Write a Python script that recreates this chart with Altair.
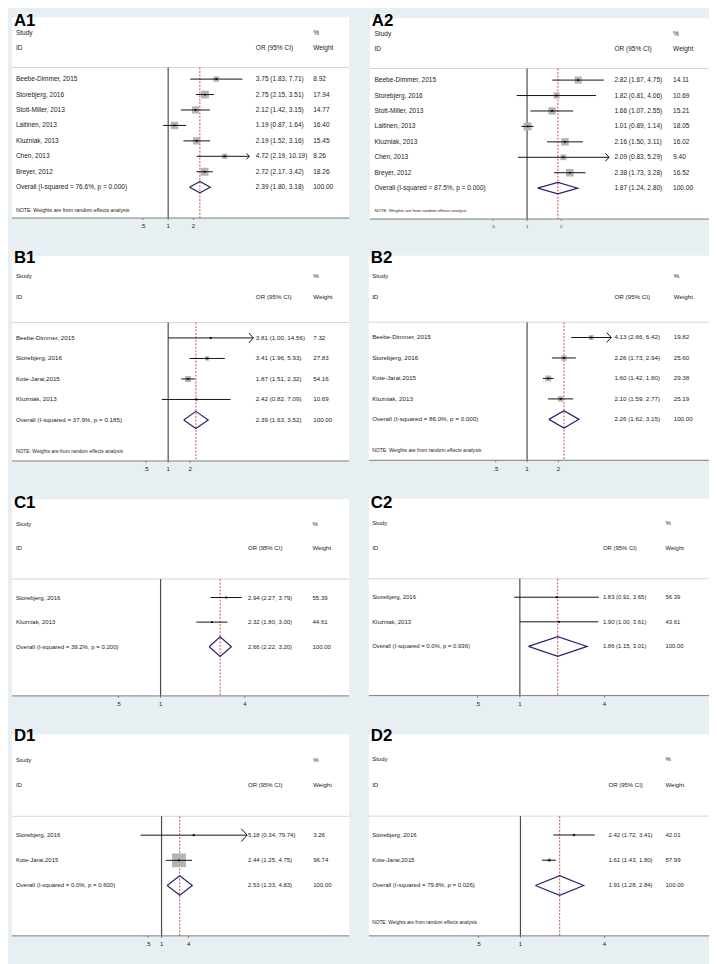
import altair as alt
import pandas as pd

# ------------------------------------------------------------------ data
A1_STUDY = ["Beebe-Dimmer, 2015", "Storebjerg, 2016", "Stott-Miller, 2013", "Laitinen, 2013",
            "Kluzniak, 2013", "Chen, 2013", "Breyer, 2012"]
A1_OR = [3.75, 2.75, 2.12, 1.19, 2.19, 4.72, 2.72]
A1_LO = [1.83, 2.15, 1.42, 0.87, 1.52, 2.19, 2.17]
A1_HI = [7.71, 3.51, 3.15, 1.64, 3.16, 10.19, 3.42]
A1_WT = [8.92, 17.94, 14.77, 16.40, 15.45, 8.26, 18.26]
A1_POOLED = [2.39, 1.80, 3.18]
A1_HET = ["76.6%", "0.000"]

A2_STUDY = A1_STUDY
A2_OR = [2.82, 1.82, 1.66, 1.01, 2.16, 2.09, 2.38]
A2_LO = [1.67, 0.81, 1.07, 0.89, 1.50, 0.83, 1.73]
A2_HI = [4.75, 4.06, 2.55, 1.14, 3.11, 5.29, 3.28]
A2_WT = [14.11, 10.69, 15.21, 18.05, 16.02, 9.40, 16.52]
A2_POOLED = [1.87, 1.24, 2.80]
A2_HET = ["87.5%", "0.000"]

B_STUDY = ["Beebe-Dimmer, 2015", "Storebjerg, 2016", "Kote-Jarai,2015", "Kluzniak, 2013"]
B1_OR = [3.81, 3.41, 1.87, 2.42]
B1_LO = [1.00, 1.96, 1.51, 0.82]
B1_HI = [14.56, 5.93, 2.32, 7.09]
B1_WT = [7.32, 27.83, 54.16, 10.69]
B1_POOLED = [2.39, 1.63, 3.52]
B1_HET = ["37.9%", "0.185"]

B2_OR = [4.13, 2.26, 1.60, 2.10]
B2_LO = [2.66, 1.73, 1.42, 1.59]
B2_HI = [6.42, 2.94, 1.80, 2.77]
B2_WT = [19.82, 25.60, 29.38, 25.19]
B2_POOLED = [2.26, 1.62, 3.15]
B2_HET = ["86.0%", "0.000"]

C_STUDY = ["Storebjerg, 2016", "Kluzniak, 2013"]
C1_OR = [2.94, 2.32]
C1_LO = [2.27, 1.80]
C1_HI = [3.79, 3.00]
C1_WT = [55.39, 44.61]
C1_POOLED = [2.66, 2.22, 3.20]
C1_HET = ["39.2%", "0.200"]

C2_OR = [1.83, 1.90]
C2_LO = [0.91, 1.00]
C2_HI = [3.65, 3.61]
C2_WT = [56.39, 43.61]
C2_POOLED = [1.86, 1.15, 3.01]
C2_HET = ["0.0%", "0.936"]

D_STUDY = ["Storebjerg, 2016", "Kote-Jarai,2015"]
D1_OR = [5.18, 2.44]
D1_LO = [0.34, 1.25]
D1_HI = [79.74, 4.75]
D1_WT = [3.26, 96.74]
D1_POOLED = [2.53, 1.33, 4.83]
D1_HET = ["0.0%", "0.600"]

D2_OR = [2.42, 1.61]
D2_LO = [1.72, 1.43]
D2_HI = [3.41, 1.80]
D2_WT = [42.01, 57.99]
D2_POOLED = [1.91, 1.28, 2.84]
D2_HET = ["79.8%", "0.026"]

TICKS_AB = [0.5, 1, 2]
TICKS_CD = [0.5, 1, 4]
TICK_LABELS_AB = [".5", "1", "2"]
TICK_LABELS_CD = [".5", "1", "4"]
NOTE = "NOTE: Weights are from random effects analysis"

# ------------------------------------------------------------------ layout / style
BG = "#e8eff2"
TXT = "#222222"
OFF = 8  # page margin

GEOM = {
    "A1": dict(left=12, right=353, top=12, axis=215, x1=170, unit=25.5, fs=6.6, note=5.3, tick=6.2,
               cname=16, cor=258.7, cwt=316.7, box=1.87, xmax=8, clip=9.3, arrow=36, dh=0.37, lab=3),
    "A2": dict(left=374, right=717, top=13, axis=216, x1=533, unit=34.5, fs=6.6, note=4.3, tick=4.2,
               cname=378.7, cor=621.3, cwt=680.7, box=1.9, xmax=5, clip=1000, arrow=64, dh=0.37, lab=3),
    "B1": dict(left=12, right=353, top=253.3, axis=460.7, x1=170, unit=22.3, fs=6.3, note=5.0, tick=6.2,
               cname=16, cor=258.7, cwt=316.7, box=0.82, xmax=8, clip=1000, arrow=100, dh=0.42, lab=7.5),
    "B2": dict(left=373, right=717, top=253, axis=460, x1=533, unit=31.7, fs=6.3, note=5.1, tick=6.2,
               cname=376.3, cor=621.3, cwt=681.3, box=1.1, xmax=4, clip=1000, arrow=100, dh=0.42, lab=7.5),
    "C1": dict(left=12, right=353, top=499.3, axis=698.3, x1=162.3, unit=42.7, fs=6.1, note=None, tick=6,
               cname=16, cor=250.7, cwt=316, box=0.3, xmax=4, clip=1000, arrow=100, dh=0.4, lab=9),
    "C2": dict(left=373, right=717, top=499, axis=698, x1=525.7, unit=42.8, fs=6.0, note=None, tick=6,
               cname=376.3, cor=609.7, cwt=673, box=0.3, xmax=4, clip=1000, arrow=100, dh=0.4, lab=9),
    "D1": dict(left=12, right=353, top=737.3, axis=941, x1=163.3, unit=13.7, fs=6.1, note=None, tick=6,
               cname=16, cor=250.7, cwt=316.7, box=1.42, xmax=8, clip=1000, arrow=169, dh=0.39, lab=7),
    "D2": dict(left=373, right=717, top=737, axis=941, x1=526.3, unit=42.5, fs=6.1, note=4.9, tick=6,
               cname=376.3, cor=615.3, cwt=673, box=0.45, xmax=4, clip=1000, arrow=100, dh=0.39, lab=7),
}

CHEVRON = "M-0.9,-1L0,0L-0.9,1"


def panel(label, study, ors, los, his, wts, pooled, het, ticks, tlabels, g):
    n = len(study)
    left, right = g["left"] - OFF, g["right"] - OFF
    top, axis = g["top"] - OFF, g["axis"] - OFF
    x1, unit = g["x1"] - OFF, g["unit"]
    dmin = 2 ** ((left - x1) / unit)
    dmax = 2 ** ((right - x1) / unit)
    xs = alt.Scale(type="log", domain=[dmin, dmax], range=[left, right], nice=False)
    ys = alt.Scale(domain=[-4, n + 2], range=[top, axis], nice=False, zero=False)
    fs = g["fs"]

    def XD(v):
        return alt.XDatum(v, type="quantitative", scale=xs, axis=None)

    def YD(v):
        return alt.YDatum(v, type="quantitative", scale=ys, axis=None)

    df = pd.DataFrame({"row": list(range(n)), "name": study, "or": ors, "lo": los, "hi": his, "w": wts})
    df["ortxt"] = [f"{o:.2f} ({l:.2f}, {h:.2f})" for o, l, h in zip(ors, los, his)]
    df["wtxt"] = [f"{w:.2f}" for w in wts]
    df["area"] = (g["box"] ** 2) * df["w"]
    df["arrow"] = df["hi"] > g["xmax"]
    df["hiend"] = df["hi"].clip(upper=g["clip"])  # where the drawn line stops

    po, pl, ph = pooled
    overall_label = f"Overall  (I-squared = {het[0]}, p = {het[1]})"
    col_name = pd.DataFrame({"row": [-3, -2] + list(range(n)) + [n],
                             "t": ["Study", "ID"] + list(study) + [overall_label]})
    col_or = pd.DataFrame({"row": [-2] + list(range(n)) + [n],
                           "t": ["OR (95% CI)"] + list(df["ortxt"]) + [f"{po:.2f} ({pl:.2f}, {ph:.2f})"]})
    col_wt = pd.DataFrame({"row": [-3, -2] + list(range(n)) + [n],
                           "t": ["%", "Weight"] + list(df["wtxt"]) + ["100.00"]})

    Xf = lambda f: alt.X(f, scale=xs, axis=None)
    Yf = lambda f: alt.Y(f, scale=ys, axis=None)

    layers = []
    one = pd.DataFrame({"a": [0]})
    # white panel
    layers.append(alt.Chart(one).mark_rect(color="white").encode(
        x=XD(dmin), x2=alt.X2Datum(dmax), y=YD(-4), y2=alt.Y2Datum(n + 2)))
    # header separator
    layers.append(alt.Chart(one).mark_rule(color="#d6d6d6", strokeWidth=1).encode(
        x=XD(dmin), x2=alt.X2Datum(dmax), y=YD(-0.75)))
    # null line
    layers.append(alt.Chart(one).mark_rule(color="#4a4a4a", strokeWidth=1.2).encode(
        x=XD(1), y=YD(-0.75), y2=alt.Y2Datum(n + 2)))
    # pooled estimate line
    layers.append(alt.Chart(one).mark_rule(
        color="#cc4a5c", strokeWidth=1, strokeDash=[2, 1.5]).encode(
        x=XD(po), y=YD(-0.75), y2=alt.Y2Datum(n + 2)))
    # axis line, ticks, tick labels
    layers.append(alt.Chart(one).mark_rule(color="#7a7a7a", strokeWidth=1).encode(
        x=XD(dmin), x2=alt.X2Datum(dmax), y=YD(n + 2)))
    tdf = pd.DataFrame({"t": ticks, "lab": tlabels})
    layers.append(alt.Chart(tdf).mark_rule(color="#7a7a7a", y2Offset=2).encode(
        x=Xf("t:Q"), y=YD(n + 2), y2=alt.Y2Datum(n + 2)))
    layers.append(alt.Chart(tdf).mark_text(dy=8.5, fontSize=g["tick"], color=TXT, baseline="middle").encode(
        x=Xf("t:Q"), y=YD(n + 2), text="lab:N"))
    # weight boxes
    layers.append(alt.Chart(df).mark_square(color="#b4b4b4", opacity=1).encode(
        x=Xf("or:Q"), y=Yf("row:Q"), size=alt.Size("area:Q", scale=None)))
    # CI lines
    layers.append(alt.Chart(df).mark_rule(color="#111111", strokeWidth=1).encode(
        x=Xf("lo:Q"), x2="hiend:Q", y=Yf("row:Q")))
    # arrows for truncated intervals
    layers.append(alt.Chart(df).transform_filter("datum.arrow").mark_point(
        shape=CHEVRON, filled=False, color="#111111", strokeWidth=1, size=g["arrow"], opacity=1).encode(
        x=Xf("hiend:Q"), y=Yf("row:Q")))
    # centre dots
    layers.append(alt.Chart(df).mark_square(color="#000000", size=3, opacity=1).encode(
        x=Xf("or:Q"), y=Yf("row:Q")))
    # pooled diamond
    h = g["dh"]
    dia = pd.DataFrame({"x": [pl, po, ph, po, pl], "y": [n, n - h, n, n + h, n], "k": [0, 1, 2, 3, 4]})
    layers.append(alt.Chart(dia).mark_line(color="#26266e", strokeWidth=1.2).encode(
        x=Xf("x:Q"), y=Yf("y:Q"), order="k:Q"))
    # text columns
    for data, cx in ((col_name, g["cname"]), (col_or, g["cor"]), (col_wt, g["cwt"])):
        layers.append(alt.Chart(data).mark_text(align="left", baseline="middle", fontSize=fs, color=TXT).encode(
            x=alt.value(cx - OFF), y=Yf("row:Q"), text="t:N"))
    if g["note"]:
        layers.append(alt.Chart(pd.DataFrame({"row": [n + 1.5], "t": [NOTE]})).mark_text(
            align="left", baseline="middle", fontSize=g["note"], color=TXT).encode(
            x=alt.value(g["cname"] - OFF), y=Yf("row:Q"), text="t:N"))
    # panel label
    base = max(top + g["lab"], 12.5)
    layers.append(alt.Chart(pd.DataFrame({"l": [label]})).mark_text(
        align="left", baseline="alphabetic", fontSize=17, fontWeight="bold", color="#000000").encode(
        x=alt.value(left + 2), y=alt.value(base), text="l:N"))
    return alt.layer(*layers)


panels = [
    panel("A1", A1_STUDY, A1_OR, A1_LO, A1_HI, A1_WT, A1_POOLED, A1_HET, TICKS_AB, TICK_LABELS_AB, GEOM["A1"]),
    panel("A2", A2_STUDY, A2_OR, A2_LO, A2_HI, A2_WT, A2_POOLED, A2_HET, TICKS_AB, TICK_LABELS_AB, GEOM["A2"]),
    panel("B1", B_STUDY, B1_OR, B1_LO, B1_HI, B1_WT, B1_POOLED, B1_HET, TICKS_AB, TICK_LABELS_AB, GEOM["B1"]),
    panel("B2", B_STUDY, B2_OR, B2_LO, B2_HI, B2_WT, B2_POOLED, B2_HET, TICKS_AB, TICK_LABELS_AB, GEOM["B2"]),
    panel("C1", C_STUDY, C1_OR, C1_LO, C1_HI, C1_WT, C1_POOLED, C1_HET, TICKS_CD, TICK_LABELS_CD, GEOM["C1"]),
    panel("C2", C_STUDY, C2_OR, C2_LO, C2_HI, C2_WT, C2_POOLED, C2_HET, TICKS_CD, TICK_LABELS_CD, GEOM["C2"]),
    panel("D1", D_STUDY, D1_OR, D1_LO, D1_HI, D1_WT, D1_POOLED, D1_HET, TICKS_CD, TICK_LABELS_CD, GEOM["D1"]),
    panel("D2", D_STUDY, D2_OR, D2_LO, D2_HI, D2_WT, D2_POOLED, D2_HET, TICKS_CD, TICK_LABELS_CD, GEOM["D2"]),
]

chart = alt.layer(*panels).resolve_scale(x="independent", y="independent").properties(
    width=709, height=956, padding=0, autosize=alt.AutoSizeParams(type="none")
).configure(background=BG).configure_view(stroke=None).configure_text(font="Liberation Sans")

chart.save("out.html", embed_options={"renderer": "svg", "actions": False})
